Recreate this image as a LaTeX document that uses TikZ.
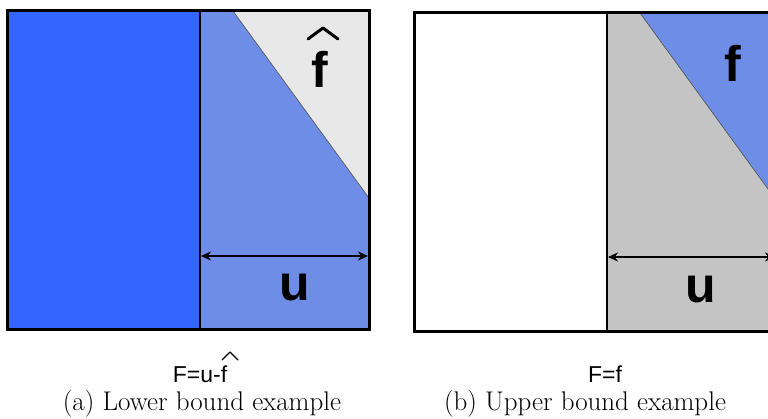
\documentclass[tikz,border=0pt]{standalone}
\usepackage{fontspec}
\newfontfamily\labfont{Liberation Sans}
\usetikzlibrary{arrows.meta}
\definecolor{deepblue}{RGB}{51,102,255}
\definecolor{midblue}{RGB}{110,141,230}
\definecolor{lightgrey}{RGB}{232,232,232}
\definecolor{midgrey}{RGB}{196,196,196}
\tikzset{
  frame/.style={draw=black,line width=3pt},
  divider/.style={draw=black,line width=2pt},
  edge/.style={draw=black!70,line width=0.6pt},
  dim/.style={line width=2.2pt,{Stealth[length=10pt,width=9pt]}-{Stealth[length=10pt,width=9pt]}},
  biglab/.style={font=\labfont\bfseries\fontsize{50}{50}\selectfont,inner sep=0pt},
  ulab/.style={font=\labfont\bfseries\fontsize{50}{50}\selectfont,inner sep=0pt},
  formula/.style={font=\labfont\fontsize{23}{23}\selectfont,inner sep=0pt,anchor=base},
  caption/.style={font=\fontsize{27}{29}\selectfont,inner sep=0pt,anchor=base},
  hat/.style={draw=black,line width=#1,line cap=round,line join=round},
}
\begin{document}
\begin{tikzpicture}[x=1pt,y=-1pt]
\useasboundingbox (0,0) rectangle (768,419);
\clip (0,0) rectangle (768,419);
\fill[white] (0,0) rectangle (768,419);
% ---------- left panel ----------
\coordinate (aTL) at (7,11);
\coordinate (aBR) at (369,330);
\coordinate (aDT) at (200,11);
\coordinate (aDB) at (200,330);
\coordinate (aT1) at (233,11);
\coordinate (aTR) at (369,11);
\coordinate (aT2) at (369,198);
\fill[deepblue] (aTL) rectangle (aDB);
\fill[midblue] (aDT) rectangle (aBR);
\fill[lightgrey] (aT1) -- (aTR) -- (aT2) -- cycle;
\draw[edge] (aT1) -- (aT2);
\draw[divider] (aDT) -- (aDB);
\draw[frame] (aTL) rectangle (aBR);
\coordinate (aA1) at (201,256);
\coordinate (aA2) at (368,256);
\draw[dim] (aA1) -- (aA2);
\node[ulab] (au) at (295,288) {u};
\node[biglab] (af) at (320,69) {f};
\draw[hat=3pt] (308,39) -- (323,28) -- (338,39);
% ---------- right panel ----------
\coordinate (bTL) at (414,13);
\coordinate (bBR) at (776,332);
\coordinate (bDT) at (607,13);
\coordinate (bDB) at (607,332);
\coordinate (bT1) at (640,13);
\coordinate (bTR) at (776,13);
\coordinate (bT2) at (776,200);
\fill[white] (bTL) rectangle (bDB);
\fill[midgrey] (bDT) rectangle (bBR);
\fill[midblue] (bT1) -- (bTR) -- (bT2) -- cycle;
\draw[edge] (bT1) -- (bT2);
\draw[divider] (bDT) -- (bDB);
\draw[frame] (bTL) rectangle (bBR);
\coordinate (bA1) at (608,257);
\coordinate (bA2) at (775,257);
\draw[dim] (bA1) -- (bA2);
\node[ulab] (bu) at (701,290) {u};
\node[biglab] (bf) at (733,63) {f};
% ---------- captions ----------
\node[formula] (af1) at (200,382) {F=u-f};
\draw[hat=1.4pt] (222,360) -- (230,352) -- (238,360);
\node[caption] (acap) at (202,410) {(a) Lower bound example};
\node[formula] (bf1) at (605,382) {F=f};
\node[caption] (bcap) at (585,410) {(b) Upper bound example};
\end{tikzpicture}
\end{document}
